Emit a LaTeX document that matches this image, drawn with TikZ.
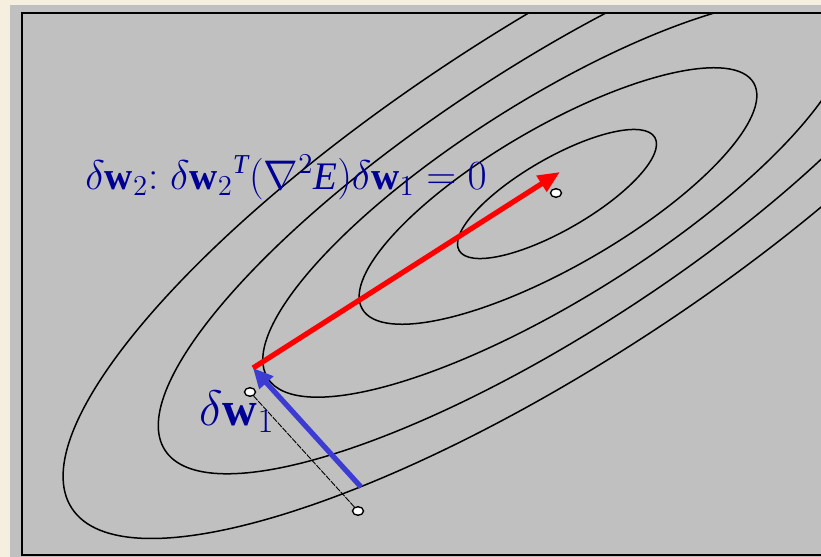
\documentclass[tikz,border=0pt]{standalone}
\usepackage{fontspec}
\setmainfont{Liberation Serif}
\usetikzlibrary{arrows.meta, shapes.geometric}
\definecolor{paper}{RGB}{246,239,224}
\definecolor{panel}{RGB}{192,192,192}
\definecolor{eqblue}{RGB}{0,0,150}
\definecolor{stepblue}{RGB}{60,60,210}

\begin{document}
\begin{tikzpicture}[x=0.5pt, y=-0.5pt,
  contour/.style={draw=black, line width=0.75pt},
  frameln/.style={draw=black, line width=1.2pt},
  redarr/.style={-{Triangle[length=11pt, width=9pt]}, line width=2.6pt, red},
  bluearr/.style={-{Triangle[length=10pt, width=9pt]}, line width=2.6pt, stepblue},
  spot/.style={ellipse, draw=black, fill=white, line width=0.7pt, inner sep=0pt,
               minimum width=5.5pt, minimum height=4.3pt},
  trail/.style={draw=black, line width=0.45pt, dash pattern=on 3pt off 0.6pt},
  eq/.style={text=eqblue, inner sep=0pt, anchor=base west, font=\fontsize{19.5}{24}\selectfont},
  lbl/.style={text=eqblue, inner sep=0pt, anchor=base west, font=\fontsize{24}{28}\selectfont},
]

% background and grey panel
\useasboundingbox (0,0) rectangle (821,557);
\fill[paper] (0,0) rectangle (821,557);
\fill[panel] (10,5) rectangle (821,557);

% error contours (centre x/y, tilt, half axes), clipped to the frame
\begin{scope}
  \clip (22,13) rectangle (821,555);
  \foreach \cx/\cy/\t/\a/\b in {557/194/30/113/36, 558/196/30/226/70, 556/198/32/340/100,
                                555/197/33/465/133, 554/195/33/575/168}
    \draw[contour, rotate around={\t:(\cx,\cy)}] (\cx,\cy) ellipse [x radius=\a, y radius=\b];
\end{scope}

% frame
\draw[frameln] (821,13) -- (22,13) -- (22,555) -- (821,555);

% search points
\node[spot] (wmin) at (556,193) {};
\node[spot] (w1) at (250,392) {};
\node[spot] (w0) at (358,511) {};
\draw[trail] (w0) -- (w1);

% arrow ends
\coordinate (b0) at (361,487);
\coordinate (b1) at (253,368);
\coordinate (r1) at (560,172);

% steps
\draw[bluearr] (b0) -- (b1);
\draw[redarr] (b1) -- (r1);

% labels
\node[eq] (cond) at (85,189) {$\delta\mathbf{w}_2{:}\;\delta\mathbf{w}_2{}^{\mathit{T}}(\nabla^{2}\mathit{E})\delta\mathbf{w}_1=0$};
\node[lbl] (dw1) at (199,425) {$\delta\mathbf{w}_1$};

\end{tikzpicture}
\end{document}
